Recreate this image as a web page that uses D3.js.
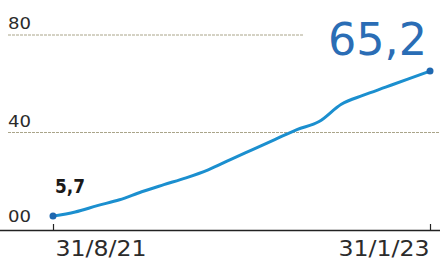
<!DOCTYPE html>
<html><head><meta charset="utf-8">
<script src="https://cdn.jsdelivr.net/npm/d3@7"></script>
<style>body{margin:0;background:#fff}svg{display:block}</style>
</head><body>
<svg id="c" width="440" height="260"></svg>
<script>
const months = ["8/21","9/21","10/21","11/21","12/21","1/22","2/22","3/22","4/22","5/22","6/22","7/22","8/22","9/22","10/22","11/22","12/22","1/23"];
const values = [5.7,7.4,10.0,12.4,15.7,18.6,21.4,24.7,28.9,33.0,37.1,41.2,44.5,51.6,55.3,58.6,61.9,65.2];
const yTicks = [0,40,80];
const yTickLabels = ["00","40","80"];
const xTickLabels = ["31/8/21","31/1/23"];
const firstLabel = "5,7", lastLabel = "65,2";

const svg = d3.select("#c");
const x = d3.scalePoint().domain(months).range([53,430]);
const y = d3.scaleLinear().domain([0,80]).range([230,35]);
const font = "'DejaVu Sans', Verdana, sans-serif";

// gridlines
svg.append("g").selectAll("line").data(yTicks.filter(d=>d>0)).join("line")
  .attr("x1",8).attr("x2",d=>d===80?303:440)
  .attr("y1",d=>y(d)).attr("y2",d=>y(d))
  .attr("stroke","#aaa58a").attr("stroke-width",1).attr("stroke-dasharray","3,1");

// y labels
svg.append("g").selectAll("text").data(yTicks).join("text")
  .attr("x",8).attr("y",d=>y(d)-(d===0?8:6))
  .attr("font-family",font).attr("font-size",16).attr("fill","#2b2b2b")
  .attr("textLength",23).attr("lengthAdjust","spacingAndGlyphs")
  .text((d,i)=>yTickLabels[i]);

// x axis
const xAxis = d3.axisBottom(x).tickValues([months[0],months[months.length-1]])
  .tickFormat((d,i)=>xTickLabels[i]).tickSize(-6).tickSizeOuter(0);
const gx = svg.append("g").attr("transform","translate(0,230)").call(xAxis);
gx.select(".domain").remove();
gx.selectAll(".tick line").attr("stroke","#222").attr("stroke-width",1.2);
gx.selectAll(".tick text").attr("font-family",font).attr("font-size",22).attr("fill","#2b2b2b")
  .attr("y",10).attr("dy","0.72em")
  .attr("textLength",91).attr("lengthAdjust","spacingAndGlyphs")
  .attr("text-anchor",(d,i)=>i===0?"start":"end")
  .attr("dx",(d,i)=>i===0?2:-1);
svg.append("line").attr("x1",0).attr("x2",440).attr("y1",230.5).attr("y2",230.5)
  .attr("stroke","#222").attr("stroke-width",1.6);

// line
const line = d3.line().x((d,i)=>x(months[i])).y(d=>y(d)).curve(d3.curveMonotoneX);
svg.append("path").datum(values).attr("d",line).attr("fill","none")
  .attr("stroke","#1b8fcf").attr("stroke-width",3).attr("stroke-linecap","round");
svg.append("g").selectAll("circle").data([0,values.length-1]).join("circle")
  .attr("cx",i=>x(months[i])).attr("cy",i=>y(values[i])).attr("r",3.5).attr("fill","#1f68b0");

// value labels
svg.append("text").attr("x",55).attr("y",193).attr("font-family",font).attr("font-weight","bold")
  .attr("font-size",20).attr("fill","#1a1a1a").attr("textLength",30).attr("lengthAdjust","spacingAndGlyphs")
  .text(firstLabel);
svg.append("text").attr("x",328).attr("y",55).attr("font-family",font)
  .attr("font-size",45).attr("fill","#2a6db5").attr("textLength",99).attr("lengthAdjust","spacingAndGlyphs")
  .text(lastLabel);
</script>
</body></html>
